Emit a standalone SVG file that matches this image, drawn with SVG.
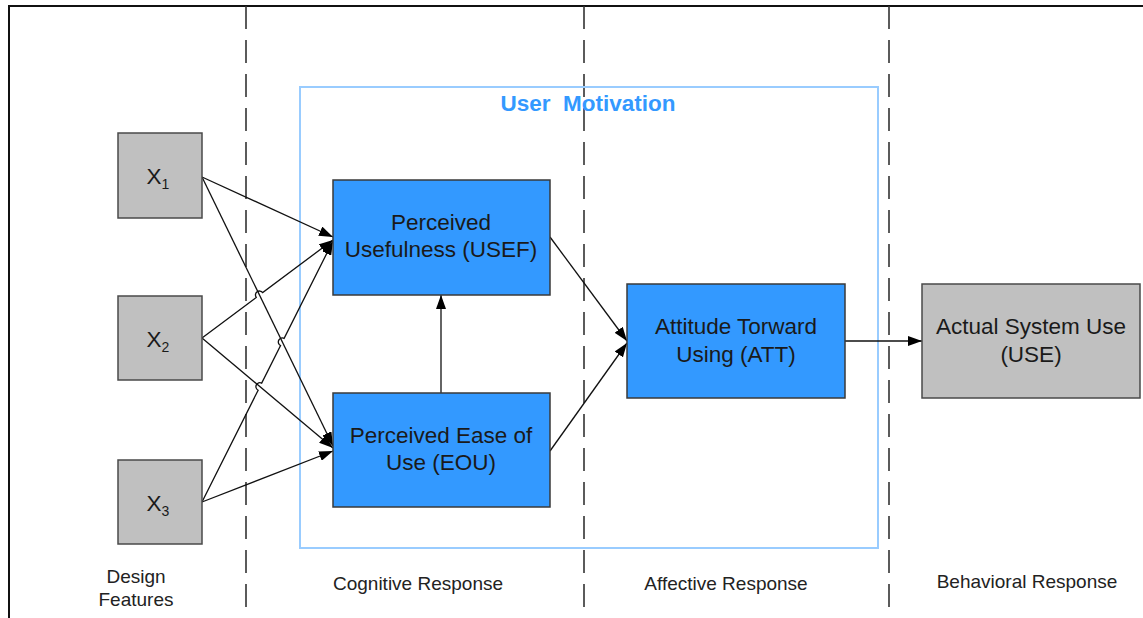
<svg xmlns="http://www.w3.org/2000/svg" width="1143" height="618" viewBox="0 0 1143 618">
<defs>
<style>
.frame{fill:none;stroke:#111;stroke-width:2}
.divider{fill:none;stroke:#333;stroke-width:1.6;stroke-dasharray:23 11}
.group{fill:none;stroke:#99ccff;stroke-width:2}
.blue{fill:#3399ff;stroke:#3a3a3a;stroke-width:1.5}
.gray{fill:#c0c0c0;stroke:#4a4a4a;stroke-width:1.5}
.lbl{font-family:"Liberation Sans",Arial,sans-serif;font-size:22.5px;fill:#1a1a1a;text-anchor:middle}
.cap{font-family:"Liberation Sans",Arial,sans-serif;font-size:19px;fill:#222;text-anchor:middle}
.title{font-family:"Liberation Sans",Arial,sans-serif;font-size:22.5px;font-weight:bold;fill:#3399ff;text-anchor:middle}
.edge{fill:none;stroke:#111;stroke-width:1.3;marker-end:url(#ah)}
</style>
<marker id="ah" markerUnits="userSpaceOnUse" markerWidth="14" markerHeight="10" refX="14" refY="5" orient="auto">
<path d="M0,0 L14,5 L0,10 Z" fill="#000"/>
</marker>
</defs>
<g id="frame">
<path class="frame" d="M9,618 V6 H1143"/>
<line class="divider" x1="246" y1="6" x2="246" y2="618"/>
<line class="divider" x1="584" y1="6" x2="584" y2="618"/>
<line class="divider" x1="889" y1="6" x2="889" y2="618"/>
</g>
<g id="user-motivation">
<rect class="group" x="300" y="87" width="578" height="461"/>
<text class="title" x="588" y="111" xml:space="preserve">User  Motivation</text>
</g>
<g id="connectors">
<line class="edge" x1="202" y1="177" x2="333" y2="237"/>
<line class="edge" x1="202" y1="177" x2="333" y2="446"/>
<path class="edge" d="M202,338 L256.27,297.41 A4,4 0 0 1 262.67,292.61 L333,240"/>
<line class="edge" x1="202" y1="338" x2="333" y2="448"/>
<path class="edge" d="M202,502 L258.12,390.21 A4,4 0 0 1 261.70,383.05 L280.54,345.53 A4,4 0 0 1 284.13,338.37 L333,241"/>
<line class="edge" x1="202" y1="502" x2="333" y2="451"/>
<line class="edge" x1="441" y1="393" x2="441" y2="295"/>
<line class="edge" x1="550" y1="237" x2="627" y2="341"/>
<line class="edge" x1="550" y1="451" x2="627" y2="343"/>
<line class="edge" x1="845" y1="341" x2="922" y2="341"/>
</g>
<g id="x1">
<rect class="gray" x="118" y="133" width="84" height="85"/>
<text class="lbl" x="158" y="184">X<tspan font-size="14" dy="5">1</tspan></text>
</g>
<g id="x2">
<rect class="gray" x="118" y="296" width="84" height="84"/>
<text class="lbl" x="158" y="347">X<tspan font-size="14" dy="5">2</tspan></text>
</g>
<g id="x3">
<rect class="gray" x="118" y="460" width="84" height="84"/>
<text class="lbl" x="158" y="511">X<tspan font-size="14" dy="5">3</tspan></text>
</g>
<g id="usef">
<rect class="blue" x="333" y="180" width="217" height="115"/>
<text class="lbl" x="441" y="230">Perceived</text>
<text class="lbl" x="441" y="257">Usefulness (USEF)</text>
</g>
<g id="eou">
<rect class="blue" x="333" y="393" width="217" height="114"/>
<text class="lbl" x="441" y="443">Perceived Ease of</text>
<text class="lbl" x="441" y="470">Use (EOU)</text>
</g>
<g id="att">
<rect class="blue" x="627" y="284" width="218" height="114"/>
<text class="lbl" x="736" y="334">Attitude Torward</text>
<text class="lbl" x="736" y="362">Using (ATT)</text>
</g>
<g id="use">
<rect class="gray" x="922" y="284" width="218" height="114"/>
<text class="lbl" x="1031" y="334">Actual System Use</text>
<text class="lbl" x="1031" y="362">(USE)</text>
</g>
<g id="captions">
<text class="cap" x="136" y="583">Design</text>
<text class="cap" x="136" y="606">Features</text>
<text class="cap" x="418" y="590">Cognitive Response</text>
<text class="cap" x="726" y="590">Affective Response</text>
<text class="cap" x="1027" y="588">Behavioral Response</text>
</g>
</svg>
